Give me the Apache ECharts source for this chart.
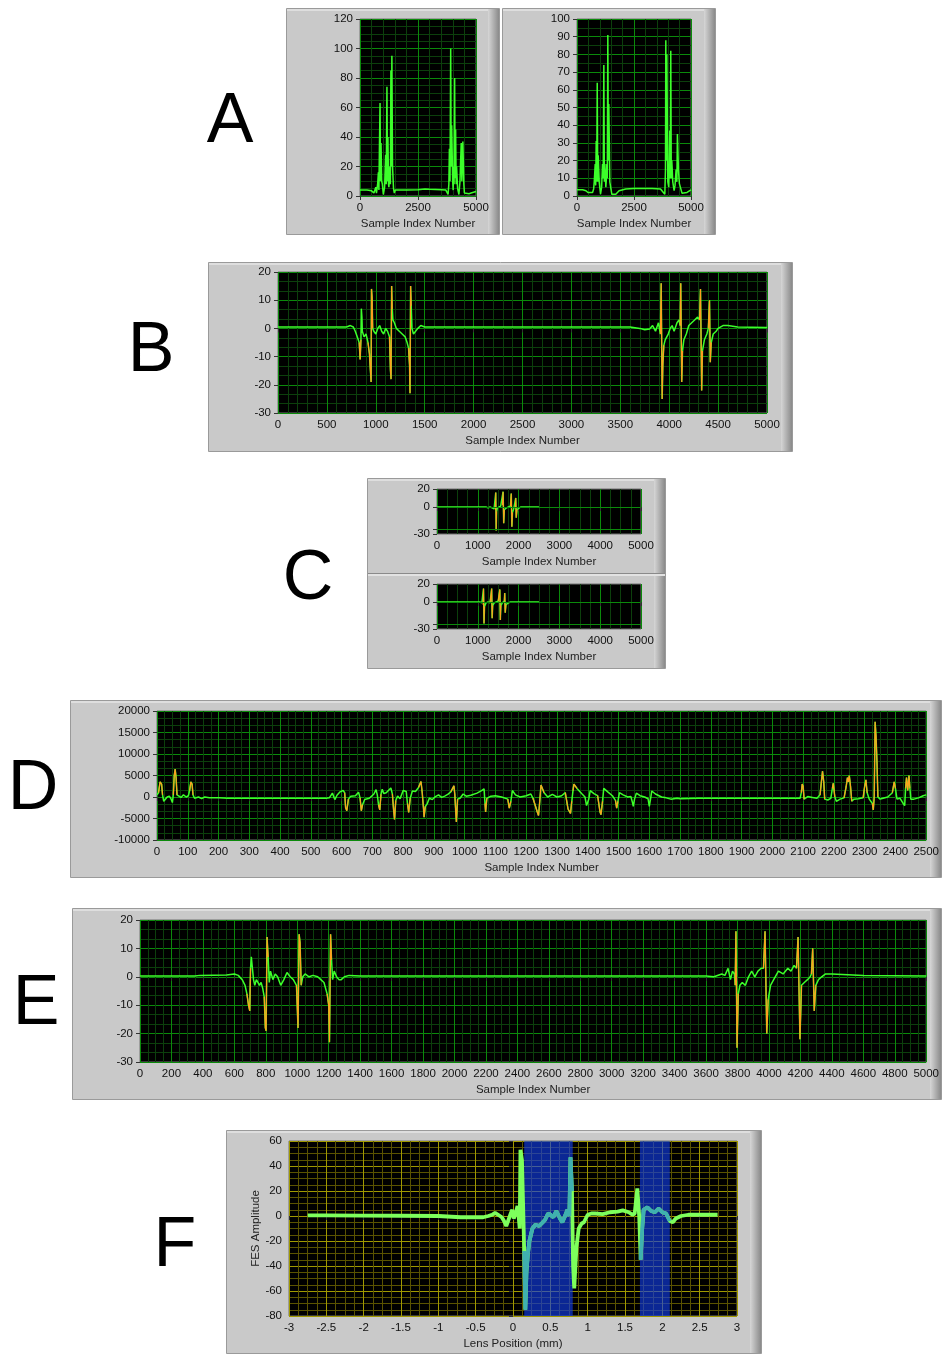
<!DOCTYPE html>
<html><head><meta charset="utf-8">
<script src="https://cdn.jsdelivr.net/npm/echarts@6/dist/echarts.min.js"></script>
<style>html,body{margin:0;padding:0;background:#fff}#c{width:942px;height:1354px}</style>
</head><body><div id="c"></div>
<script>
// ---------------- DATA ----------------
const xNameSample = 'Sample Index Number';
const fXName = 'Lens Position (mm)';
const fYName = 'FES Amplitude';
const panelLetters = ['A','B','C','D','E','F'];

// Panel A left: magnitude trace
const aLeftData = [[0,4],[300,4],[500,3.5],[600,2],[650,1],[680,6],[710,2],[760,8],[793,16],[815,4],[836,31],[864,63],[885,10],[906,36],[935,10],[963,8],[1006,1],[1060,6],[1105,28],[1130,8],[1161,74],[1185,10],[1204,40],[1230,8],[1246,6],[1289,20],[1310,8],[1331,85],[1350,20],[1374,95],[1402,20],[1445,5],[1480,2],[1520,4],[2000,4],[2500,4.3],[2800,4.8],[3000,4.5],[3500,4.3],[3700,4],[3796,1],[3830,8],[3853,32],[3880,10],[3909,100],[3930,20],[3952,48],[3994,10],[4015,4],[4037,20],[4055,8],[4079,80],[4100,12],[4122,45],[4145,8],[4164,20],[4207,5],[4263,1],[4310,10],[4340,25],[4363,36],[4390,10],[4433,37],[4476,8],[4500,2],[4575,1],[4700,1.5],[4788,2],[5000,3]];

// Panel A right: magnitude trace
const aRightData = [[0,3.5],[250,3.5],[392,3],[480,2],[567,1],[683,2],[730,4],[756,8],[799,18],[820,6],[843,31],[865,8],[887,64],[910,8],[930,23],[974,8],[1032,1],[1080,5],[1119,18],[1150,10],[1177,74],[1200,8],[1221,18],[1265,5],[1290,10],[1308,18],[1330,10],[1352,91],[1375,20],[1395,52],[1439,8],[1526,1],[1701,1],[1846,3],[2137,4],[2500,4.2],[3300,4.2],[3663,4],[3750,3],[3852,1],[3881,15],[3895,88],[3915,20],[3939,80],[3983,8],[4026,5],[4070,37],[4090,10],[4113,82],[4135,10],[4157,20],[4201,8],[4259,3],[4300,6],[4346,15],[4380,8],[4404,35],[4448,15],[4491,7],[4608,1.5],[4826,2],[5000,3.5]];

// Panel B: FES trace
const bData = [[0,0.5],[700,0.5],[740,1],[770,0.5],[790,-1],[810,-3],[830,-5],[840,-11],[848,-4],[852,7],[858,4],[862,-1],[880,-3],[900,-2],[920,-5],[935,-9],[945,-15],[952,-19],[956,14],[962,11],[968,0],[980,-1],[1000,-2],[1020,0],[1040,1],[1060,-1],[1080,-2],[1100,0],[1120,-1],[1140,-3],[1150,-15],[1156,-18],[1162,15],[1168,7],[1175,3],[1190,2],[1210,0],[1240,-1],[1270,-2],[1300,-3],[1320,-5],[1335,-7],[1345,-13],[1350,-23],[1356,15],[1362,8],[1370,0],[1385,-2],[1400,-2],[1430,0],[1460,1],[1500,0.5],[3600,0.5],[3700,0],[3750,-0.5],[3800,-0.2],[3830,1],[3860,-1],[3890,2],[3910,-2],[3918,16],[3928,-25],[3935,-13],[3945,-6],[3960,-4],[3990,-2],[4010,0],[4030,1],[4050,-1],[4080,2],[4100,3],[4112,1],[4118,16],[4128,-19],[4136,-8],[4150,-4],[4175,-2],[4200,1],[4230,2],[4260,3],[4290,4],[4310,3],[4320,14],[4332,-22],[4340,-8],[4360,-4],[4385,-2],[4400,0],[4412,10],[4420,-12],[4430,-5],[4450,-2],[4480,-1],[4500,0],[4550,1],[4600,1],[4700,0.5],[5000,0.3]];

// Panel C: two short FES traces
const cTopData = [[0,0],[1200,0],[1250,-1],[1300,0],[1350,-1],[1400,-2],[1430,-3],[1440,16],[1450,-26],[1460,-5],[1480,-1],[1520,0],[1560,1],[1600,2],[1620,17],[1635,-18],[1650,-3],[1700,-1],[1750,0],[1800,1],[1820,15],[1835,-22],[1850,-6],[1880,-2],[1920,0],[1930,10],[1942,-12],[1960,-3],[2000,-1],[2050,0],[2500,0]];
const cBottomData = [[0,0],[1050,0],[1100,-1],[1130,-3],[1140,15],[1152,-24],[1165,-5],[1200,-1],[1250,0],[1300,-1],[1340,15],[1352,-18],[1365,-4],[1400,-1],[1450,0],[1500,1],[1540,14],[1552,-20],[1565,-4],[1600,-1],[1650,1],[1660,10],[1672,-12],[1690,-3],[1750,-1],[1800,0],[2500,0]];
const cLabelValues = [20, 0, -30];
const cGuideValues = [0, -25];

// Panel D: large-range trace
const dData = [[0,500],[5,1000],[10,3500],[15,3000],[18,500],[22,-1000],[27,-1300],[33,0],[40,200],[46,-500],[50,-1300],[53,500],[56,5000],[59,6500],[62,4500],[65,500],[70,300],[78,-100],[86,500],[95,0],[102,300],[106,1500],[110,3500],[114,3000],[117,500],[122,-300],[128,-600],[135,0],[145,-400],[155,0],[170,-200],[200,-200],[230,-300],[550,-300],[560,-200],[570,900],[578,-600],[585,400],[595,1200],[605,1500],[610,1000],[613,-2500],[617,-3200],[622,-500],[630,200],[645,300],[655,1100],[660,-200],[664,-3200],[668,-1800],[675,-600],[690,-300],[705,700],[712,1700],[716,500],[720,-1800],[724,-3000],[728,600],[732,1800],[737,800],[745,1000],[760,2100],[765,700],[769,-3000],[772,-5200],[776,-800],[782,200],[790,-400],[800,1500],[810,1300],[814,-1500],[818,-3600],[823,-300],[830,1400],[840,1300],[850,2200],[858,3600],[862,1000],[866,-2500],[868,-4700],[872,-2200],[878,-1600],[885,-300],[895,-600],[905,100],[915,500],[925,-100],[935,200],[945,600],[955,1200],[965,2600],[968,500],[971,-3500],[973,-5800],[977,-500],[985,-300],[995,700],[1005,200],[1020,400],[1040,900],[1055,1500],[1063,1900],[1066,-1500],[1068,-3500],[1072,-300],[1085,200],[1100,300],[1120,0],[1140,-500],[1145,-2600],[1150,-1000],[1155,1500],[1165,500],[1180,0],[1200,300],[1215,700],[1222,-300],[1236,-3500],[1240,-4300],[1244,-1000],[1248,2800],[1252,3200],[1258,1000],[1270,0],[1285,600],[1300,0],[1315,300],[1327,1000],[1336,-2800],[1344,-3800],[1348,-1000],[1352,1500],[1355,3000],[1365,2000],[1380,800],[1391,0],[1396,-2000],[1403,-600],[1408,1500],[1420,800],[1432,300],[1440,-3500],[1443,-4100],[1448,-1000],[1452,2000],[1465,1200],[1480,300],[1490,-800],[1494,-2600],[1498,-1000],[1503,1000],[1515,500],[1530,0],[1540,100],[1545,-1200],[1548,-2200],[1552,-500],[1558,900],[1570,300],[1585,0],[1596,-400],[1600,-2200],[1604,-500],[1608,1400],[1620,700],[1640,0],[1655,-200],[1670,-500],[1690,-300],[1700,-400],[1760,-300],[2090,-300],[2094,1000],[2097,3000],[2100,2500],[2103,-500],[2108,-300],[2115,100],[2130,-100],[2145,-300],[2155,500],[2160,4000],[2163,6000],[2167,3500],[2170,-500],[2180,-700],[2190,-300],[2195,2000],[2198,3200],[2203,0],[2208,-1000],[2220,-500],[2233,-200],[2240,2500],[2244,4500],[2247,3500],[2250,5000],[2254,2500],[2258,-1000],[2265,-500],[2280,-400],[2295,-200],[2300,2500],[2304,4000],[2308,1000],[2315,-500],[2325,-1500],[2328,-3000],[2331,0],[2334,17500],[2337,14000],[2340,8000],[2343,0],[2350,-500],[2360,-300],[2375,0],[2390,1000],[2396,3500],[2400,2000],[2405,-500],[2415,-300],[2425,-1500],[2430,-2000],[2433,2000],[2436,4500],[2440,1500],[2444,5000],[2447,2000],[2450,-500],[2460,-500],[2475,-200],[2490,300],[2500,500]];

// Panel E: FES trace
const eData = [[0,0.3],[350,0.3],[380,0.5],[550,0.6],[600,1],[625,0.5],[650,-1],[668,-3],[680,-6],[690,-10],[698,-12],[703,3],[708,7],[713,4],[722,-1],[730,-3],[740,-1],[750,-2],[760,-3],[770,-2],[780,-4],[790,-7],[797,-18],[802,-19],[808,14],[815,7],[822,-2],[830,2],[845,-1],[860,1],[875,0],[895,-3],[915,-1],[935,1.5],[955,0],[975,-1],[995,-3],[1005,-18],[1012,15],[1018,12],[1025,-3],[1035,0],[1050,1],[1075,0],[1100,0.5],[1130,0],[1150,-1],[1170,-2],[1190,-6],[1200,-10],[1205,-23],[1212,15],[1218,6],[1225,-1],[1235,2],[1250,0],[1265,-1],[1280,-1],[1300,0],[1330,0.5],[1400,0.3],[3600,0.3],[3650,0],[3700,1],[3720,0.5],[3740,3],[3755,-1],[3768,2],[3780,1],[3785,-3],[3790,16],[3797,-25],[3805,-6],[3815,-3],[3830,-2],[3850,-3],[3870,0],[3890,2],[3910,0],[3930,2],[3950,3],[3965,3],[3975,16],[3986,-20],[3995,-8],[4010,-3],[4030,-1],[4060,2],[4090,1],[4120,3],[4140,2],[4160,4],[4175,3],[4185,14],[4197,-22],[4207,-3],[4225,-2],[4245,-1],[4262,0],[4270,1],[4278,10],[4288,-12],[4298,-3],[4315,-1],[4335,0],[4360,1],[4400,1],[4600,0.5],[5000,0.3]];

// Panel F: FES amplitude vs lens position
const fData = [[-2.75,0.5],[-2.5,0.5],[-2,0.3],[-1.5,0.2],[-1,0],[-0.7,-1],[-0.5,-1],[-0.4,-1],[-0.33,0],[-0.28,1],[-0.24,2.5],[-0.2,1],[-0.15,-1],[-0.12,-4],[-0.09,-8],[-0.06,-3],[-0.03,2],[-0.01,5],[0.01,-2],[0.04,3],[0.06,8],[0.075,0],[0.09,-10],[0.1,53],[0.12,45],[0.135,10],[0.15,-28],[0.165,-75],[0.18,-45],[0.2,-30],[0.22,-20],[0.26,-10],[0.3,-7],[0.35,-8],[0.4,-5],[0.43,-3],[0.47,2],[0.5,1],[0.54,-1],[0.58,4],[0.6,3],[0.63,-2],[0.66,-5],[0.69,-1],[0.71,2],[0.73,5],[0.755,0],[0.77,47],[0.79,20],[0.805,-40],[0.82,-58],[0.85,-25],[0.88,-10],[0.92,-6],[0.95,-5],[1.0,1],[1.05,2],[1.1,2],[1.2,1.5],[1.3,3],[1.4,3.5],[1.47,4.5],[1.55,3],[1.6,1],[1.63,2],[1.665,22],[1.69,0],[1.71,-35],[1.73,-10],[1.75,5],[1.8,7],[1.85,4],[1.9,3],[1.95,6],[2.0,3],[2.05,2],[2.1,-4],[2.14,-5],[2.18,-2],[2.25,0],[2.35,1],[2.5,1],[2.74,1]];
const fBands = [[0.15,0.8],[1.7,2.1]];

// ---------------- STYLE ----------------
const FONT = 'Liberation Sans';
const G_MAJ = '#0b8a0b', G_MIN = '#0c3f0c';
const Y_MAJ = '#a09800', Y_MIN = '#5a5300';
const TRACE = '#3cff2a', ORANGE = '#ffa01e', F_GREEN = '#7dff5c', F_CYAN = '#3fb0b0';
const plainNum = v => String(v);

function spikeSegs(data, thr) {
  const out = []; let lastEnd = null;
  for (let i = 0; i < data.length - 1; i++) {
    const a = data[i], b = data[i + 1];
    if (Math.abs(a[1]) >= thr || Math.abs(b[1]) >= thr) {
      if (lastEnd === i) { out.push(b); }
      else { if (out.length) out.push([a[0], null]); out.push(a, b); }
      lastEnd = i + 1;
    }
  }
  return out;
}
function bandSegs(data, bands) {
  const inB = x => bands.some(b => x >= b[0] && x <= b[1]);
  const out = []; let lastEnd = null;
  for (let i = 0; i < data.length - 1; i++) {
    const a = data[i], b = data[i + 1];
    if (inB(a[0]) && inB(b[0])) {
      if (lastEnd === i) out.push(b);
      else { if (out.length) out.push([a[0], null]); out.push(a, b); }
      lastEnd = i + 1;
    }
  }
  return out;
}

const gridDefs = [
  {left:360, top:19, width:116, height:177},
  {left:577, top:19, width:114, height:177},
  {left:278, top:272, width:489, height:141},
  {left:437, top:489, width:204, height:45},
  {left:437, top:584, width:204, height:45},
  {left:157, top:711, width:770, height:129},
  {left:140, top:920, width:788, height:142},
  {left:289, top:1141, width:448, height:175}
];
const grids = gridDefs.map(g => Object.assign({show:true, backgroundColor:'#000', borderColor:'#707070', borderWidth:1}, g));

function xAx(gi, min, max, interval, minorN, maj, mnr, name) {
  return {type:'value', gridIndex:gi, min, max, interval,
    axisLine:{show:false}, axisTick:{show:true, length:4, lineStyle:{color:'#333'}},
    axisLabel:{color:'#111', fontSize:11.5, fontFamily:FONT, margin:6, formatter:plainNum},
    splitLine:{show:true, lineStyle:{color:maj, width:1}},
    minorTick:{show:false, splitNumber:minorN},
    minorSplitLine:{show:true, lineStyle:{color:mnr, width:1}},
    name, nameLocation:'middle', nameGap:22,
    nameTextStyle:{color:'#222', fontSize:11.5, fontFamily:FONT}};
}
function yAx(gi, min, max, interval, minorN, maj, mnr, extra) {
  return Object.assign({type:'value', gridIndex:gi, min, max, interval,
    axisLine:{show:false}, axisTick:{show:true, length:4, lineStyle:{color:'#333'}},
    axisLabel:{color:'#111', fontSize:11.5, fontFamily:FONT, margin:7, formatter:plainNum},
    splitLine:{show:true, lineStyle:{color:maj, width:1}},
    minorTick:{show:false, splitNumber:minorN},
    minorSplitLine:{show:true, lineStyle:{color:mnr, width:1}}}, extra || {});
}
const cYExtra = {
  axisLabel:{color:'#111', fontSize:11.5, fontFamily:FONT, margin:7,
    formatter: v => cLabelValues.indexOf(v) >= 0 ? String(v) : ''},
  axisTick:{show:true, length:4, lineStyle:{color:'#333'}, customValues:[20,0,-25,-30]},
  splitLine:{show:false}, minorSplitLine:{show:false}
};

const xAxes = [
  xAx(0,0,5000,2500,5,G_MAJ,G_MIN,xNameSample),
  xAx(1,0,5000,2500,5,G_MAJ,G_MIN,xNameSample),
  xAx(2,0,5000,500,5,G_MAJ,G_MIN,xNameSample),
  xAx(3,0,5000,1000,4,G_MAJ,G_MIN,xNameSample),
  xAx(4,0,5000,1000,4,G_MAJ,G_MIN,xNameSample),
  xAx(5,0,2500,100,4,G_MAJ,G_MIN,xNameSample),
  xAx(6,0,5000,200,4,G_MAJ,G_MIN,xNameSample),
  xAx(7,-3,3,0.5,4,Y_MAJ,Y_MIN,fXName)
];
const yAxes = [
  yAx(0,0,120,20,4,G_MAJ,G_MIN),
  yAx(1,0,100,10,2,G_MAJ,G_MIN),
  yAx(2,-30,20,10,3,G_MAJ,G_MIN),
  yAx(3,-30,20,10,2,G_MAJ,G_MIN,cYExtra),
  yAx(4,-30,20,10,2,G_MAJ,G_MIN,cYExtra),
  yAx(5,-10000,20000,5000,3,G_MAJ,G_MIN),
  yAx(6,-30,20,10,3,G_MAJ,G_MIN),
  yAx(7,-80,60,20,4,Y_MAJ,Y_MIN,{name:fYName, nameLocation:'middle', nameRotate:90, nameGap:27,
     nameTextStyle:{color:'#222', fontSize:11.5, fontFamily:FONT}})
];

function lineS(gi, data, color, width, z, extra) {
  return Object.assign({type:'line', xAxisIndex:gi, yAxisIndex:gi, data, showSymbol:false, symbol:'none',
    lineStyle:{color, width}, itemStyle:{color}, z, animation:false, connectNulls:false, silent:true}, extra || {});
}
const cGuide = {markLine:{silent:true, symbol:'none', animation:false, label:{show:false},
  lineStyle:{color:G_MAJ, type:'solid', width:1}, data: cGuideValues.map(v => ({yAxis:v}))}};

const series = [
  lineS(0, aLeftData, TRACE, 1.5, 3),
  lineS(1, aRightData, TRACE, 1.5, 3),
  lineS(2, bData, TRACE, 1.5, 3),
  lineS(2, spikeSegs(bData, 9), ORANGE, 1.2, 4),
  lineS(3, cTopData, TRACE, 1.5, 3, cGuide),
  lineS(3, spikeSegs(cTopData, 9), ORANGE, 1.1, 4),
  lineS(4, cBottomData, TRACE, 1.5, 3, cGuide),
  lineS(4, spikeSegs(cBottomData, 9), ORANGE, 1.1, 4),
  lineS(5, dData, TRACE, 1.5, 3),
  lineS(5, spikeSegs(dData, 2500), ORANGE, 1.2, 4),
  lineS(6, eData, TRACE, 1.5, 3),
  lineS(6, spikeSegs(eData, 9), ORANGE, 1.2, 4),
  lineS(7, fData, F_GREEN, 3.8, 3, {markArea:{silent:true, animation:false,
    itemStyle:{color:'rgba(18,62,235,0.63)'},
    data: fBands.map(b => [{xAxis:b[0]}, {xAxis:b[1]}])}}),
  lineS(7, bandSegs(fData, fBands), F_CYAN, 3.8, 4)
];

// ---------------- FRAMES & LETTERS ----------------
const frameDefs = [
  [286,8,214,227],[502,8,214,227],[208,262,585,190],[367,478,299,191],
  [70,700,872,178],[72,908,870,192],[226,1130,536,224]
];
const graphic = [];
frameDefs.forEach(f => {
  const [x,y,w,h] = f;
  graphic.push({type:'rect', z:-10, silent:true, shape:{x:x+0.5,y:y+0.5,width:w-1,height:h-1},
    style:{fill:'#c9c9c9', stroke:'#9a9a9a', lineWidth:1}});
  graphic.push({type:'rect', z:-9, silent:true, shape:{x:x+w-12,y:y+1,width:11,height:h-2},
    style:{fill:new echarts.graphic.LinearGradient(0,0,1,0,[{offset:0,color:'#d6d6d6'},{offset:1,color:'#8a8a8a'}])}});
  graphic.push({type:'rect', z:-9, silent:true, shape:{x:x+1,y:y+1,width:w-13,height:2},
    style:{fill:'#dedede'}});
});
// C panel separator
graphic.push({type:'rect', z:-8, silent:true, shape:{x:368,y:573,width:297,height:1}, style:{fill:'#8a8a8a'}});
graphic.push({type:'rect', z:-8, silent:true, shape:{x:368,y:574,width:297,height:2}, style:{fill:'#e2e2e2'}});

const letterPos = [[230,123],[151,352],[308,580],[33,790],[36,1005],[175,1247]];
panelLetters.forEach((t, i) => {
  graphic.push({type:'text', z:5, silent:true, x:letterPos[i][0], y:letterPos[i][1],
    style:{text:t, fontSize:70, fontFamily:FONT, fill:'#000', align:'center', verticalAlign:'middle'}});
});

const chart = echarts.init(document.getElementById('c'), null, {renderer:'canvas'});
chart.setOption({
  animation:false, backgroundColor:'#fff',
  grid:grids, xAxis:xAxes, yAxis:yAxes, series, graphic
});
</script></body></html>
